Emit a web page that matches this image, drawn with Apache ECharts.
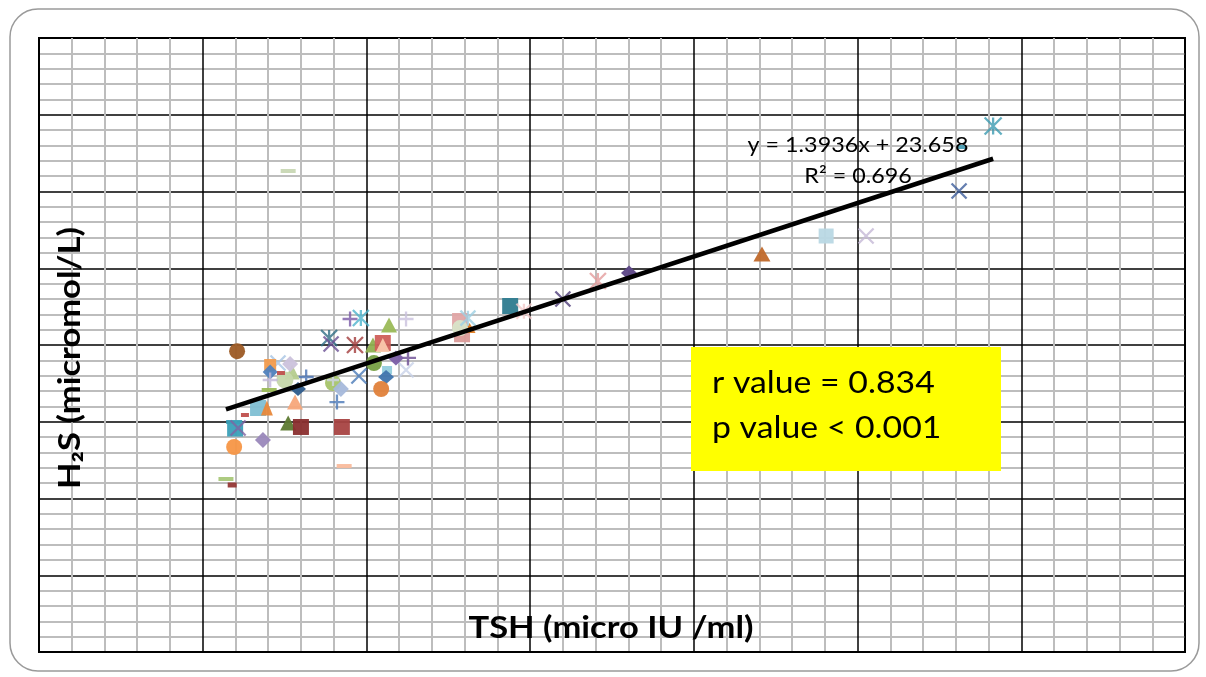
<!DOCTYPE html>
<html><head><meta charset="utf-8">
<script src="https://cdn.jsdelivr.net/npm/echarts@6/dist/echarts.min.js"></script>
<style>html,body{margin:0;padding:0;background:#fff}#c{width:1206px;height:677px}</style>
</head><body><div id="c"></div><script>
// ---- data (TSH in micro IU/ml, H2S in micromol/L) ----
const tsh = [6.05, 22.08, 24.04, 25.26, 28.10, 29.14, 28.19, 7.61, 18.02, 17.07, 16.0, 14.39, 14.81,
  12.86, 12.92, 13.15, 12.86, 13.1, 11.21, 11.27, 11.21, 10.69, 10.2, 10.5, 10.5, 10.9, 10.23, 10.63,
  10.6, 10.45, 9.77, 9.65, 8.86, 8.92, 9.5, 9.83, 8.98, 8.98, 9.22, 9.1, 8.16, 7.91, 7.82, 7.61, 8.0,
  9.25, 9.32, 7.73, 7.51, 7.67, 7.3, 7.06, 7.06, 7.39, 7.06, 7.03, 6.69, 6.96, 6.29, 5.96, 5.99, 6.08,
  6.84, 5.96, 5.71, 5.9];
const h2s = [39.2, 51.86, 54.2, 54.2, 60.07, 68.53, 65.8, 62.67, 49.38, 48.34, 45.99, 45.08, 44.4,
  43.13, 41.4, 42.2, 42.2, 43.5, 43.39, 38.31, 36.74, 42.6, 40.0, 40.26, 40.0, 38.3, 37.65, 36.74,
  35.83, 34.27, 35.96, 40.0, 40.91, 40.13, 43.39, 43.52, 35.05, 35.44, 34.27, 32.57, 35.83, 34.27,
  32.57, 29.84, 29.32, 29.32, 24.23, 36.48, 35.44, 37.52, 37.65, 37.39, 36.48, 36.35, 35.44, 34.14,
  31.79, 31.79, 30.88, 29.97, 29.05, 29.19, 27.62, 26.71, 22.54, 21.76];
const trendSlope = 1.3936, trendIntercept = 23.658;
const equationText = 'y = 1.3936x + 23.658';
const r2Text = 'R² = 0.696';
const statLines = ['r value = 0.834', 'p value < 0.001'];
const xAxisTitle = 'TSH (micro IU /ml)';
const yAxisTitle = 'H₂S (micromol/L)';

// ---- marker styles (Excel-like per-series markers) ----
const markerShape = ['circle','triangle','rect','x','x','ast','dash','dash','diamond','ast','x','rect','ast',
  'rect','rect','triangle','circle','ast','plus','plus','x','triangle','triangle','rect','triangle','diamond','circle','rect',
  'diamond','circle','x','ast','ast','x','plus','ast','circle','plus','diamond','plus','plus','diamond','triangle','triangle','rect',
  'rect','dash','triangle','circle','diamond','x','rect','diamond','dash','plus','dash','rect','triangle','dash','dash','rect','x',
  'diamond','circle','dash','dash'];
const markerColor = ['#9C5A24','#C0692B','#B9D8E4','#C4B8D6','#3E5F9C','#3B9BB2','#4A9DB3','#C8D7B4','#5B4585','#E49C9C','#4E3C78','#2E7B8F','#F3C9C9',
  '#E0A5A5','#DA9A98','#E07B20','#D8E4C8','#9DD0E2','#C9C1DD','#6B4C94','#C8D2E8','#9BBB59','#8FB050','#CF5F5A','#FAC8AC','#7B5EA6','#76A043','#93CDDD',
  '#3F74AD','#E0813A','#4A7BB8','#A23B3B','#2F6E85','#6C5095','#7959A6','#4DB4CD','#A6C46A','#D0D4E8','#A7B9DB','#4A78B8','#4670B3','#2E5C8C','#F7A67A','#5D7A32','#8A2E2E',
  '#A84342','#F9BB9C','#B5CC8E','#C5D7AA','#CBC2DC','#A8C4E4','#F29B4C','#4F81BD','#C0504D','#C0B5D8','#9BBB59','#7FBFD3','#E8883A','#C0504D','#3AA0B8','#3AA0B8','#8064A2',
  '#9A88BA','#F79646','#A9C87A','#953735'];
const markerSize = [[16,16],[17,15],[15,15],[15,15],[15,15],[17,17],[8,4],[15,4],[16,15],[16,16],[15,15],[16,16],[15,15],
  [16,16],[16,16],[12,10],[16,16],[15,15],[15,15],[16,15],[15,15],[16,15],[16,15],[16,16],[14,14],[16,15],[16,16],[10,8],
  [16,14],[16,16],[15,15],[16,16],[16,16],[15,15],[15,15],[16,16],[16,16],[12,12],[16,16],[15,15],[15,15],[16,14],[16,15],[16,15],[16,16],
  [16,16],[15,4],[15,15],[17,17],[16,16],[15,15],[12,12],[15,15],[8,4],[15,15],[15,4],[16,16],[12,15],[8,4],[16,4],[16,15],[15,15],
  [16,16],[16,16],[15,4],[9,5]];

const PATHS = {
  x: 'path://M0,0L10,10M10,0L0,10',
  plus: 'path://M5,0L5,10M0,5L10,5',
  ast: 'path://M0,0L10,10M10,0L0,10M5,0L5,10'
};

const points = tsh.map((x, i) => {
  const s = markerShape[i], c = markerColor[i];
  const item = { value: [x, h2s[i]], symbolSize: markerSize[i] };
  if (PATHS[s]) {
    item.symbol = PATHS[s];
    item.itemStyle = { color: 'none', borderColor: c, borderWidth: 2.3 };
  } else {
    item.symbol = (s === 'dash') ? 'rect' : s;
    item.itemStyle = { color: c, opacity: 0.95 };
  }
  return item;
});

const xMinData = Math.min(...tsh), xMaxData = Math.max(...tsh);
const trend = [[xMinData, trendSlope * xMinData + trendIntercept], [xMaxData, trendSlope * xMaxData + trendIntercept]];

const chart = echarts.init(document.getElementById('c'));
const FONT = 'Lato, "Open Sans", sans-serif';
chart.setOption({
  animation: false,
  backgroundColor: '#fff',
  grid: { left: 39, top: 38, right: 21, bottom: 25, show: true, borderColor: '#000', borderWidth: 2 },
  xAxis: {
    type: 'value', min: 0, max: 35, interval: 5,
    axisLine: { show: true, lineStyle: { color: '#000', width: 2 } },
    axisTick: { show: false }, axisLabel: { show: false },
    splitLine: { show: true, lineStyle: { color: '#000', width: 1.5 } },
    minorTick: { show: false, splitNumber: 5 },
    minorSplitLine: { show: true, lineStyle: { color: '#bdbdbd', width: 2 } }
  },
  yAxis: {
    type: 'value', min: 0, max: 80, interval: 10,
    axisLine: { show: true, lineStyle: { color: '#000', width: 2 } },
    axisTick: { show: false }, axisLabel: { show: false },
    splitLine: { show: true, lineStyle: { color: '#000', width: 1.5 } },
    minorTick: { show: false, splitNumber: 5 },
    minorSplitLine: { show: true, lineStyle: { color: '#bdbdbd', width: 2 } }
  },
  series: [
    { type: 'scatter', data: points, z: 3 },
    { type: 'line', data: trend, symbol: 'none', z: 4, lineStyle: { color: '#000', width: 4.5 } }
  ],
  graphic: [
    { type: 'rect', z: 0, silent: true, shape: { x: 10, y: 9, width: 1189, height: 662, r: 28 },
      style: { fill: 'none', stroke: '#9a9a9a', lineWidth: 1.5 } },
    { type: 'text', z: 10, x: 858, y: 145, scaleX: 1.06, style: { text: equationText, font: '22px ' + FONT, fill: '#000', textAlign: 'center', textVerticalAlign: 'middle' } },
    { type: 'text', z: 10, x: 858, y: 176, scaleX: 1.06, style: { text: r2Text, font: '22px ' + FONT, fill: '#000', textAlign: 'center', textVerticalAlign: 'middle' } },
    { type: 'rect', z: 10, shape: { x: 691, y: 347, width: 310, height: 124 }, style: { fill: '#FFFF00' } },
    { type: 'text', z: 11, x: 712, y: 383, scaleX: 1.09, style: { text: statLines[0], font: '31px ' + FONT, fill: '#000', textAlign: 'left', textVerticalAlign: 'middle' } },
    { type: 'text', z: 11, x: 712, y: 428, scaleX: 1.09, style: { text: statLines[1], font: '31px ' + FONT, fill: '#000', textAlign: 'left', textVerticalAlign: 'middle' } },
    { type: 'text', z: 10, x: 611, y: 628, scaleX: 1.15, style: { text: xAxisTitle, font: 'bold 30px ' + FONT, fill: '#000', textAlign: 'center', textVerticalAlign: 'middle' } },
    { type: 'text', z: 10, x: 70, y: 358, rotation: Math.PI / 2, scaleX: 1.15, style: { text: yAxisTitle, font: 'bold 30px ' + FONT, fill: '#000', textAlign: 'center', textVerticalAlign: 'middle' } }
  ]
});
</script></body></html>
